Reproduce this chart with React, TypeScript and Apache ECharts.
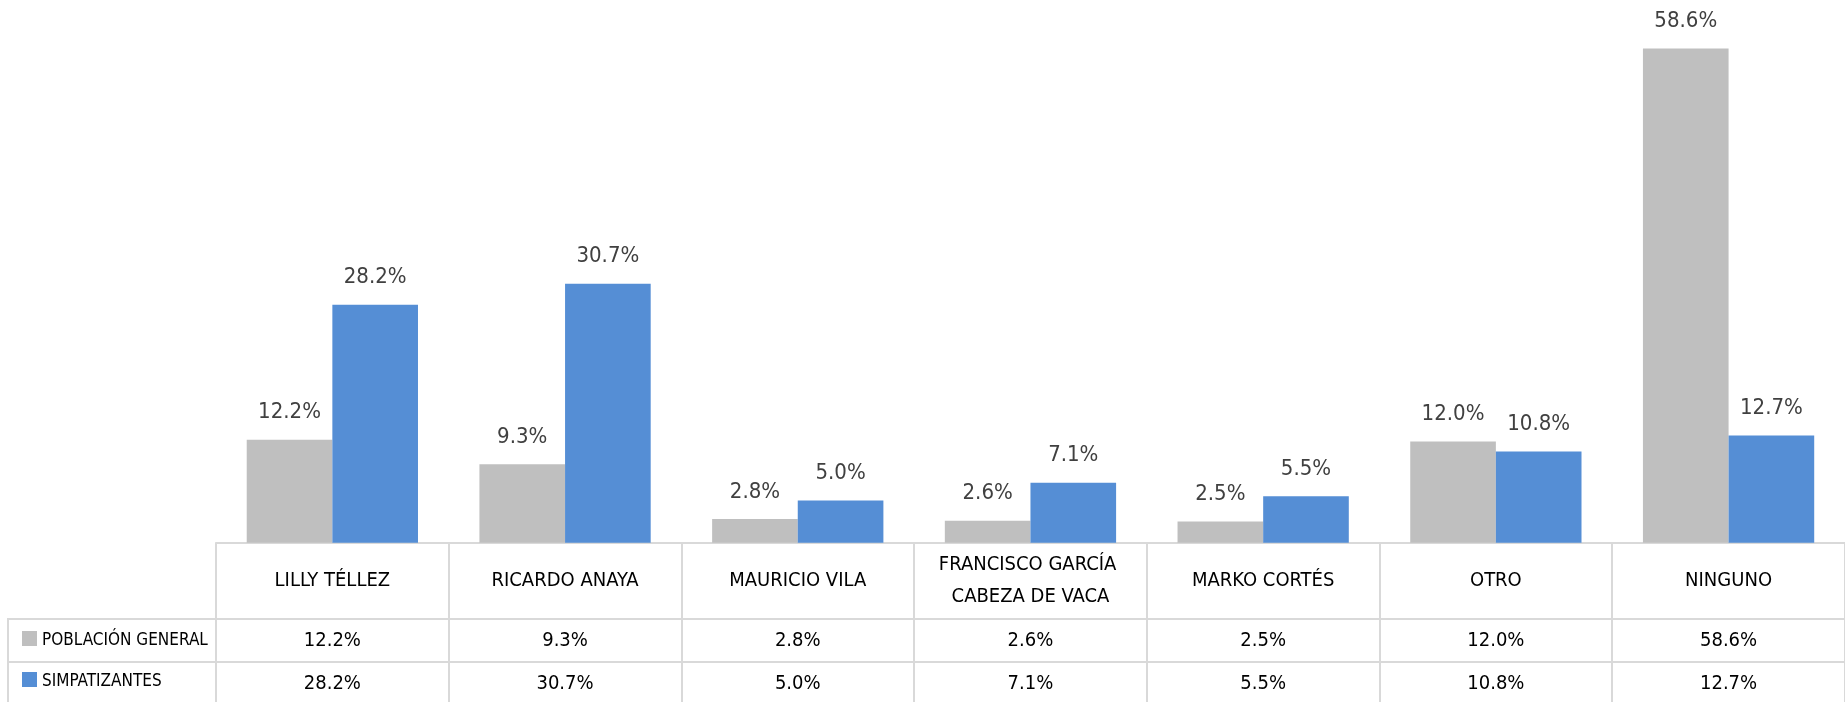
import React, { useEffect, useRef } from "react";
import * as echarts from "echarts";

const categories = [
  "LILLY TÉLLEZ",
  "RICARDO ANAYA",
  "MAURICIO VILA",
  "FRANCISCO GARCÍA CABEZA DE VACA",
  "MARKO CORTÉS",
  "OTRO",
  "NINGUNO",
];
const seriesNames = ["POBLACIÓN GENERAL", "SIMPATIZANTES"];
const poblacionGeneral = [12.2, 9.3, 2.8, 2.6, 2.5, 12.0, 58.6];
const simpatizantes = [28.2, 30.7, 5.0, 7.1, 5.5, 10.8, 12.7];

const FONT = "'DejaVu Sans Condensed', 'Liberation Sans Narrow', sans-serif";
const LINE = "#d9d9d9";
const GRAY = "#bfbfbf";
const BLUE = "#558ed5";

const fmt = (v: number) => `${v.toFixed(1)}%`;

export default function App() {
  const ref = useRef<HTMLDivElement>(null);
  useEffect(() => {
    if (!ref.current) return;
    const chart = echarts.init(ref.current, undefined, { renderer: "svg" });
    const baseY = 542.7;
    const row1Y = 619;
    const row2Y = 662;
    const labelStyle = {
      show: true,
      position: "top" as const,
      distance: 17,
      color: "#404040",
      fontFamily: FONT,
      fontSize: 22,
      lineHeight: 24,
      formatter: (p: any) => fmt(p.value),
    };
    const legendBase = {
      orient: "horizontal" as const,
      left: 17,
      itemWidth: 15,
      itemHeight: 15,
      itemGap: 0,
      icon: "rect",
      textStyle: { fontFamily: FONT, fontSize: 17, color: "#000", lineHeight: 16 },
    };
    chart.setOption({
      animation: false,
      grid: { left: 216, right: -8, top: baseY - 60 * 8.435, bottom: 702 - baseY, containLabel: false },
      legend: [
        { ...legendBase, top: 625, data: [seriesNames[0]] },
        { ...legendBase, top: 666, data: [seriesNames[1]] },
      ],
      xAxis: [
        {
          type: "category",
          data: categories,
          position: "bottom",
          axisLine: { show: true, lineStyle: { color: LINE, width: 2 } },
          axisTick: { show: true, interval: 0, length: 702 - baseY, lineStyle: { color: LINE, width: 2 } },
          axisLabel: {
            interval: 0,
            margin: 36,
            verticalAlign: "middle",
            align: "center",
            width: 228,
            overflow: "break",
            lineHeight: 32,
            color: "#000",
            fontFamily: FONT,
            fontSize: 20,
          },
        },
        {
          type: "category",
          data: categories,
          position: "bottom",
          offset: row1Y - baseY,
          axisLine: { show: true, lineStyle: { color: LINE, width: 2 } },
          axisTick: { show: false },
          axisLabel: {
            interval: 0,
            margin: 20,
            verticalAlign: "middle",
            color: "#000",
            fontFamily: FONT,
            fontSize: 20,
            formatter: (_v: string, i: number) => fmt(poblacionGeneral[i]),
          },
        },
        {
          type: "category",
          data: categories,
          position: "bottom",
          offset: row2Y - baseY,
          axisLine: { show: true, lineStyle: { color: LINE, width: 2 } },
          axisTick: { show: false },
          axisLabel: {
            interval: 0,
            margin: 20,
            verticalAlign: "middle",
            color: "#000",
            fontFamily: FONT,
            fontSize: 20,
            formatter: (_v: string, i: number) => fmt(simpatizantes[i]),
          },
        },
      ],
      yAxis: { type: "value", min: 0, max: 60, show: false },
      graphic: [
        { type: "line", shape: { x1: 8, y1: row1Y, x2: 216, y2: row1Y }, style: { stroke: LINE, lineWidth: 2 } },
        { type: "line", shape: { x1: 8, y1: row2Y, x2: 216, y2: row2Y }, style: { stroke: LINE, lineWidth: 2 } },
        { type: "line", shape: { x1: 8, y1: row1Y - 1, x2: 8, y2: 702 }, style: { stroke: LINE, lineWidth: 2 } },
      ],
      series: [
        {
          name: seriesNames[0],
          type: "bar",
          data: poblacionGeneral,
          itemStyle: { color: GRAY },
          barGap: "0%",
          barCategoryGap: "26.4%",
          label: labelStyle,
        },
        {
          name: seriesNames[1],
          type: "bar",
          data: simpatizantes,
          itemStyle: { color: BLUE },
          barGap: "0%",
          barCategoryGap: "26.4%",
          label: labelStyle,
        },
      ],
    });
    return () => chart.dispose();
  }, []);
  return <div ref={ref} style={{ position: "fixed", left: 0, top: 0, width: 1845, height: 702 }} />;
}
